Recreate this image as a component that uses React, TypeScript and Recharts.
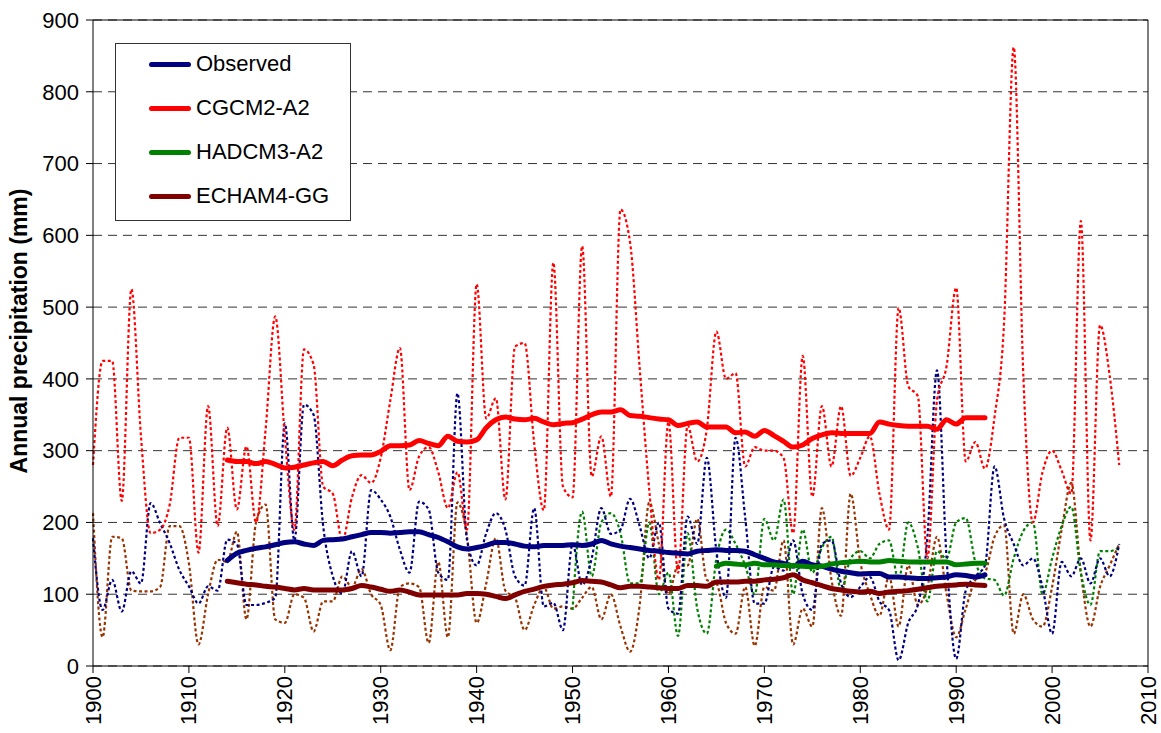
import { CartesianGrid, Line, LineChart, ReferenceLine, XAxis, YAxis } from 'recharts';

const FONT = '"Liberation Sans", Arial, sans-serif';

// Years on the x axis, 1900 to 2007
const YEARS = [
  1900, 1901, 1902, 1903, 1904, 1905, 1906, 1907, 1908, 1909,
  1910, 1911, 1912, 1913, 1914, 1915, 1916, 1917, 1918, 1919,
  1920, 1921, 1922, 1923, 1924, 1925, 1926, 1927, 1928, 1929,
  1930, 1931, 1932, 1933, 1934, 1935, 1936, 1937, 1938, 1939,
  1940, 1941, 1942, 1943, 1944, 1945, 1946, 1947, 1948, 1949,
  1950, 1951, 1952, 1953, 1954, 1955, 1956, 1957, 1958, 1959,
  1960, 1961, 1962, 1963, 1964, 1965, 1966, 1967, 1968, 1969,
  1970, 1971, 1972, 1973, 1974, 1975, 1976, 1977, 1978, 1979,
  1980, 1981, 1982, 1983, 1984, 1985, 1986, 1987, 1988, 1989,
  1990, 1991, 1992, 1993, 1994, 1995, 1996, 1997, 1998, 1999,
  2000, 2001, 2002, 2003, 2004, 2005, 2006, 2007,
];

// annual values (mm), dotted lines
const OBSERVED = [
  178, 78, 120, 76, 132, 115, 227, 199, 171, 134,
  111, 87, 111, 105, 176, 170, 85, 85, 88, 95,
  338, 175, 364, 350, 195, 125, 101, 160, 125, 245,
  232, 208, 162, 130, 229, 218, 130, 120, 380, 175,
  140, 185, 213, 190, 125, 112, 220, 83, 88, 50,
  170, 113, 150, 220, 184, 190, 233, 195, 150, 200,
  80, 73, 208, 170, 290, 160, 95, 318, 207, 87,
  87, 138, 133, 175, 100, 78, 170, 175, 115, 96,
  110, 124, 90, 78, 8, 60, 85, 180, 412, 150,
  10, 105, 125, 140, 278, 205, 170, 140, 150, 110,
  45, 145, 125, 150, 115, 150, 125, 170,
];

const CGCM2 = [
  280, 425, 425, 230, 525, 320, 185, 190, 225, 318,
  318, 158, 362, 195, 332, 218, 306, 200, 330, 487,
  320, 190, 441, 420, 250, 240, 175, 235, 266, 255,
  290, 370, 443, 245, 292, 305, 270, 220, 270, 190,
  532, 345, 373, 232, 445, 450, 310, 217, 562, 250,
  235, 585, 264, 320, 236, 636, 590, 415, 245, 120,
  340, 130, 335, 285, 330, 466, 400, 408, 278, 305,
  300, 300, 290, 185, 432, 236, 362, 278, 362, 265,
  290, 320, 240, 190, 499, 390, 376, 150, 370, 418,
  527, 285, 312, 275, 347, 480, 862, 405, 200, 270,
  300, 272, 240, 620, 175, 475, 405, 280,
];

// HADCM3 starts in 1950
const HADCM3_START = 1950;
const HADCM3 = [
  78, 215, 125, 200, 213, 185, 115, 115, 200, 100,
  130, 42, 185, 80, 45, 150, 190, 170, 140, 100,
  205, 175, 232, 100, 190, 130, 165, 180, 105, 150,
  160, 150, 170, 175, 120, 200, 165, 90, 160, 150,
  200, 206, 145, 122, 120, 98, 150, 188, 200, 100,
  150, 195, 222, 130, 85, 160, 160, 165,
];

const ECHAM4 = [
  213, 40, 180, 178, 105, 104, 104, 110, 195, 195,
  143, 30, 100, 148, 145, 187, 65, 200, 225, 65,
  60, 100, 95, 48, 90, 90, 125, 110, 135, 100,
  85, 22, 110, 115, 110, 32, 145, 40, 228, 180,
  60, 115, 178, 105, 95, 50, 85, 110, 80, 83,
  80, 95, 110, 65, 100, 55, 20, 85, 228, 170,
  100, 140, 140, 205, 120, 115, 60, 45, 110, 28,
  110, 105, 175, 30, 80, 55, 220, 120, 70, 240,
  145, 100, 70, 125, 55, 140, 85, 110, 180, 100,
  40, 80, 120, 130, 180, 196, 45, 100, 65, 55,
  110, 190, 255, 130, 55, 110, 140, 170,
];

// moving averages, thick lines, 1914 - 1993
const MA_START = 1914;
const OBSERVED_MA = [
  147, 157, 161, 164, 166, 169,
  172, 173, 170, 168, 175, 176, 177, 180, 183, 186,
  186, 185, 186, 187, 187, 183, 179, 173, 166, 163,
  165, 168, 172, 172, 170, 167, 166, 168, 168, 168,
  169, 168, 170, 175, 170, 167, 165, 163, 161, 160,
  158, 157, 156, 160, 161, 162, 161, 161, 160, 155,
  150, 145, 143, 139, 146, 141, 139, 135, 132, 130,
  128, 129, 129, 124, 124, 123, 122, 122, 123, 124,
  127, 126, 124, 127,
];

const CGCM2_MA = [
  287, 285, 285, 282, 285, 281,
  276, 277, 280, 283, 285, 279, 287, 293, 294, 294,
  299, 307, 307, 308, 314, 310, 307, 320, 313, 312,
  315, 332, 343, 347, 344, 343, 345, 340, 336, 338,
  339, 344, 350, 354, 354, 357, 349, 348, 346, 344,
  343, 335, 338, 340, 333, 333, 333, 325, 326, 320,
  328, 321, 313, 305, 308, 317, 322, 325, 324, 324,
  324, 324, 340, 337, 335, 334, 334, 334, 330, 343,
  337, 346, 346, 346,
];

const ECHAM4_MA = [
  118, 116, 114, 113, 111, 110,
  108, 106, 108, 106, 106, 106, 106, 108, 112, 110,
  107, 104, 106, 103, 99, 99, 99, 99, 99, 101,
  101, 100, 97, 94, 99, 104, 107, 111, 113, 114,
  116, 119, 118, 117, 113, 109, 111, 111, 110, 109,
  108, 108, 112, 112, 111, 117, 117, 117, 118, 118,
  120, 121, 123, 127, 120, 116, 112, 108, 106, 104,
  103, 104, 101, 103, 104, 105, 107, 109, 111, 112,
  113, 114, 113, 112,
];

const HADCM3_MA_START = 1965;
const HADCM3_MA = [
  139, 143, 142, 141, 143, 141, 141, 140, 140, 139,
  138, 139, 142, 144, 145, 146, 145, 145, 147, 146,
  145, 145, 145, 145, 145, 141, 142, 143, 143,
];

const X_TICKS = [1900, 1910, 1920, 1930, 1940, 1950, 1960, 1970, 1980, 1990, 2000, 2010];
const Y_TICKS = [0, 100, 200, 300, 400, 500, 600, 700, 800, 900];

const LEGEND = [
  { name: 'Observed', color: '#000080' },
  { name: 'CGCM2-A2', color: '#ff0000' },
  { name: 'HADCM3-A2', color: '#008000' },
  { name: 'ECHAM4-GG', color: '#800000' },
];

const pick = (arr: number[], start: number, year: number) => {
  const v = arr[year - start];
  return v === undefined ? null : v;
};

const data = YEARS.map((year, i) => ({
  year,
  obs: OBSERVED[i],
  cgcm: CGCM2[i],
  hadcm: year >= HADCM3_START ? pick(HADCM3, HADCM3_START, year) : null,
  echam: ECHAM4[i],
  obsMA: year >= MA_START ? pick(OBSERVED_MA, MA_START, year) : null,
  cgcmMA: year >= MA_START ? pick(CGCM2_MA, MA_START, year) : null,
  hadcmMA: year >= HADCM3_MA_START ? pick(HADCM3_MA, HADCM3_MA_START, year) : null,
  echamMA: year >= MA_START ? pick(ECHAM4_MA, MA_START, year) : null,
}));

function YearTick(props: any) {
  const { x, y, payload } = props;
  return (
    <text
      x={x}
      y={y}
      transform={`rotate(-90, ${x}, ${y})`}
      textAnchor="end"
      dominantBaseline="central"
      fontSize={22}
      fontFamily={FONT}
      fill="#000"
    >
      {payload.value}
    </text>
  );
}

const dotted = { strokeWidth: 2.2, strokeDasharray: '3 2.5', dot: false, activeDot: false, isAnimationActive: false } as const;
const thick = { strokeWidth: 5, strokeLinecap: 'round', dot: false, activeDot: false, isAnimationActive: false } as const;

export default function App() {
  return (
    <div style={{ position: 'absolute', left: 0, top: 0, width: 1161, height: 733, background: '#fff' }}>
      <LineChart
        width={1161}
        height={733}
        data={data}
        margin={{ top: 20, right: 13, left: 0, bottom: 0 }}
      >
        <CartesianGrid vertical={false} stroke="#333" strokeDasharray="9 6" />
        <XAxis
          dataKey="year"
          type="number"
          domain={[1900, 2010]}
          ticks={X_TICKS}
          height={67}
          tick={<YearTick />}
          tickSize={7}
          tickMargin={3}
          stroke="#000"
          interval={0}
        />
        <YAxis
          domain={[0, 900]}
          ticks={Y_TICKS}
          width={93}
          tickSize={7}
          tickMargin={7}
          stroke="#000"
          tick={{ fontSize: 22, fill: '#000', fontFamily: FONT }}
        />
        <ReferenceLine y={900} stroke="#000" />
        <ReferenceLine x={2010} stroke="#000" />

        {/* annual series, dotted */}
        <Line type="monotone" dataKey="echam" stroke="#993300" {...dotted} />
        <Line type="monotone" dataKey="hadcm" stroke="#008000" {...dotted} />
        <Line type="monotone" dataKey="obs" stroke="#000080" {...dotted} />
        <Line type="monotone" dataKey="cgcm" stroke="#ff0000" {...dotted} />

        {/* moving averages, thick */}
        <Line type="monotone" dataKey="cgcmMA" stroke="#ff0000" {...thick} />
        <Line type="monotone" dataKey="obsMA" stroke="#000080" {...thick} />
        <Line type="monotone" dataKey="hadcmMA" stroke="#008000" {...thick} />
        <Line type="monotone" dataKey="echamMA" stroke="#800000" {...thick} />
      </LineChart>

      <div
        style={{
          position: 'absolute',
          left: 19,
          top: 331,
          transform: 'translate(-50%, -50%) rotate(-90deg)',
          whiteSpace: 'nowrap',
          fontFamily: FONT,
          fontWeight: 'bold',
          fontSize: 23,
        }}
      >
        Annual precipitation (mm)
      </div>

      <div
        style={{
          position: 'absolute',
          left: 115,
          top: 43,
          width: 234,
          height: 176,
          border: '1px solid #333',
          background: '#fff',
          fontFamily: FONT,
          fontSize: 22,
        }}
      >
        {LEGEND.map((item, i) => (
          <div
            key={item.name}
            style={{ position: 'absolute', left: 33, top: 20 + i * 44 - 13, height: 26, display: 'flex', alignItems: 'center' }}
          >
            <span style={{ display: 'inline-block', width: 42, height: 5, borderRadius: 3, background: item.color, marginRight: 5 }} />
            <span>{item.name}</span>
          </div>
        ))}
      </div>
    </div>
  );
}
